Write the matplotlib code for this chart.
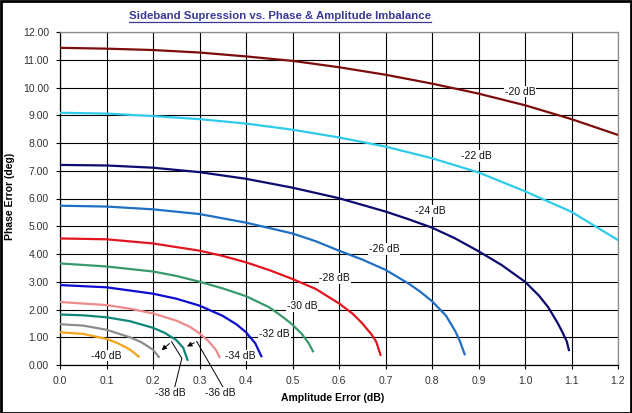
import matplotlib
matplotlib.use("Agg")
import matplotlib.pyplot as plt
from matplotlib.patches import Rectangle
from matplotlib.lines import Line2D

# values (amplitude error in dB, phase error in deg)
levels = ["-20 dB", "-22 dB", "-24 dB", "-26 dB", "-28 dB", "-30 dB",
          "-32 dB", "-34 dB", "-36 dB", "-38 dB", "-40 dB"]

amp_20 = [0, 0.1, 0.2, 0.3, 0.4, 0.5, 0.6, 0.7, 0.8, 0.9, 1.0, 1.1, 1.2]
ph_20 = [11.43, 11.40, 11.35, 11.26, 11.12, 10.96, 10.73, 10.46, 10.14, 9.78, 9.36, 8.86, 8.29]

amp_22 = [0, 0.1, 0.2, 0.3, 0.4, 0.5, 0.6, 0.7, 0.8, 0.9, 1.0, 1.1, 1.2]
ph_22 = [9.09, 9.06, 8.97, 8.86, 8.70, 8.48, 8.20, 7.87, 7.45, 6.94, 6.26, 5.52, 4.50]

amp_24 = [0, 0.1, 0.2, 0.3, 0.4, 0.5, 0.6, 0.7, 0.75, 0.8, 0.85, 0.9, 0.95, 1.0,
          1.03, 1.05, 1.07, 1.08, 1.09, 1.095]
ph_24 = [7.21, 7.19, 7.11, 6.95, 6.71, 6.39, 6.01, 5.53, 5.25, 4.95, 4.56, 4.10, 3.60, 3.00,
         2.50, 2.08, 1.52, 1.20, 0.84, 0.50]

amp_26 = [0, 0.1, 0.2, 0.3, 0.4, 0.5, 0.55, 0.6, 0.65, 0.7, 0.75, 0.775, 0.8, 0.83,
          0.85, 0.86, 0.871]
ph_26 = [5.74, 5.71, 5.61, 5.44, 5.13, 4.74, 4.46, 4.12, 3.80, 3.43, 2.93, 2.64, 2.30, 1.78,
         1.22, 0.86, 0.35]

amp_28 = [0, 0.1, 0.2, 0.3, 0.35, 0.4, 0.45, 0.5, 0.55, 0.6, 0.63, 0.65, 0.67, 0.68, 0.69]
ph_28 = [4.56, 4.53, 4.38, 4.12, 3.93, 3.70, 3.42, 3.10, 2.74, 2.22, 1.84, 1.50, 1.10, 0.84, 0.33]

amp_30 = [0, 0.1, 0.2, 0.25, 0.3, 0.35, 0.4, 0.45, 0.48, 0.5, 0.52, 0.535, 0.545]
ph_30 = [3.66, 3.55, 3.37, 3.21, 3.00, 2.76, 2.48, 2.08, 1.72, 1.45, 1.12, 0.78, 0.46]

amp_32 = [0, 0.1, 0.2, 0.25, 0.3, 0.35, 0.38, 0.4, 0.42, 0.434]
ph_32 = [2.88, 2.80, 2.57, 2.39, 2.14, 1.77, 1.46, 1.18, 0.78, 0.28]

amp_34 = [0, 0.1, 0.15, 0.2, 0.25, 0.28, 0.3, 0.32, 0.335, 0.344]
ph_34 = [2.27, 2.16, 2.03, 1.86, 1.60, 1.37, 1.14, 0.85, 0.55, 0.25]

amp_36 = [0, 0.05, 0.1, 0.15, 0.2, 0.225, 0.25, 0.265, 0.275]
ph_36 = [1.82, 1.79, 1.72, 1.58, 1.34, 1.16, 0.90, 0.62, 0.15]

amp_38 = [0, 0.05, 0.1, 0.15, 0.175, 0.2, 0.214]
ph_38 = [1.47, 1.42, 1.27, 1.00, 0.82, 0.55, 0.26]

amp_40 = [0, 0.05, 0.1, 0.125, 0.15, 0.171]
ph_40 = [1.18, 1.12, 0.94, 0.78, 0.56, 0.28]

x_ticks = [0.0, 0.1, 0.2, 0.3, 0.4, 0.5, 0.6, 0.7, 0.8, 0.9, 1.0, 1.1, 1.2]
y_ticks = [0, 1, 2, 3, 4, 5, 6, 7, 8, 9, 10, 11, 12]

curves = [(amp_20, ph_20), (amp_22, ph_22), (amp_24, ph_24), (amp_26, ph_26),
          (amp_28, ph_28), (amp_30, ph_30), (amp_32, ph_32), (amp_34, ph_34),
          (amp_36, ph_36), (amp_38, ph_38), (amp_40, ph_40)]
colors = ["#7d0c0c", "#2fcbeb", "#0b0b70", "#1f6fc4", "#e2161e", "#389a6c",
          "#0d0dcf", "#ee8a8a", "#0f8777", "#8c8c8c", "#f2a41c"]

# where the in-plot labels sit (data coords)
label_pos = [(0.99, 9.85), (0.896, 7.53), (0.797, 5.55), (0.697, 4.17),
             (0.591, 3.12), (0.521, 2.13), (0.461, 1.10), (0.387, 0.34),
             None, None, (0.10, 0.34)]

plt.rcParams['font.family'] = ['Liberation Sans', 'DejaVu Sans']

fig = plt.figure(figsize=(6.32, 4.13), dpi=100)
ax = fig.add_axes([60 / 632, 48 / 413, 558 / 632, 333 / 413])

for (xs, ys), c in zip(curves, colors):
    ax.plot(xs, ys, color=c, lw=1.6, solid_capstyle='butt', solid_joinstyle='round', zorder=3)

for lab, pos in zip(levels, label_pos):
    if pos is None:
        continue
    ax.text(pos[0], pos[1], lab, fontsize=7.5, ha='center', va='center', color='#111111',
            bbox=dict(facecolor='white', edgecolor='none', pad=0.6), zorder=4)

# callouts below the axis for -38 and -36
ax.text(0.238, -1.02, "-38 dB", fontsize=7.5, ha='center', va='center', color='#111111', clip_on=False)
ax.text(0.345, -1.02, "-36 dB", fontsize=7.5, ha='center', va='center', color='#111111', clip_on=False)
ax.plot([0.247, 0.262, 0.24], [-0.78, 0.24, 0.84], color='black', lw=0.7, clip_on=False, zorder=5)
ax.annotate("", xy=(0.214, 0.47), xytext=(0.24, 0.84),
            arrowprops=dict(arrowstyle='-|>', color='black', lw=0.7, mutation_scale=7), zorder=5)
ax.plot([0.35, 0.294], [-0.78, 0.85], color='black', lw=0.7, clip_on=False, zorder=5)
ax.annotate("", xy=(0.268, 0.62), xytext=(0.294, 0.85),
            arrowprops=dict(arrowstyle='-|>', color='black', lw=0.7, mutation_scale=7), zorder=5)

ax.set_xlim(0, 1.2)
ax.set_ylim(0, 12)
ax.set_xticks(x_ticks)
ax.set_yticks(y_ticks)
ax.set_xticklabels(["%.1f" % v for v in x_ticks])
ax.set_yticklabels(["%.2f" % v for v in y_ticks])
ax.tick_params(direction='out', length=3, width=0.8, labelsize=7.5, colors='black',
               labelcolor='#333333', pad=5)
ax.grid(True, color='black', lw=0.8, zorder=1)
ax.set_axisbelow(True)
for s in ['top', 'right']:
    ax.spines[s].set_color('#8c8c8c')
for s in ['left', 'bottom']:
    ax.spines[s].set_color('black')
for s in ax.spines.values():
    s.set_linewidth(0.9)

ax.set_xlabel("Amplitude Error (dB)", fontsize=7.5, fontweight='bold')
ax.xaxis.set_label_coords((333 - 60) / 558, -0.085)
ax.set_ylabel("Phase Error (deg)", fontsize=7.5, fontweight='bold')
ax.yaxis.set_label_coords((15 - 60) / 558, 0.505)

title = fig.text(280 / 632, 1 - 16 / 413, "Sideband Supression vs. Phase & Amplitude Imbalance",
                 ha='center', va='center', fontsize=8.2, fontweight='bold', color='#383896')

# underline the title
fig.canvas.draw()
bb = title.get_window_extent().transformed(fig.transFigure.inverted())
fig.add_artist(Line2D([bb.x0, bb.x1], [bb.y0 - 0.002, bb.y0 - 0.002],
                      transform=fig.transFigure, color='#383896', lw=0.9))

# outer frame
fig.add_artist(Rectangle((0.001, 0.001), 0.998, 0.997, transform=fig.transFigure,
                         fill=False, edgecolor='black', lw=2))

plt.savefig("out.png", dpi=100)
